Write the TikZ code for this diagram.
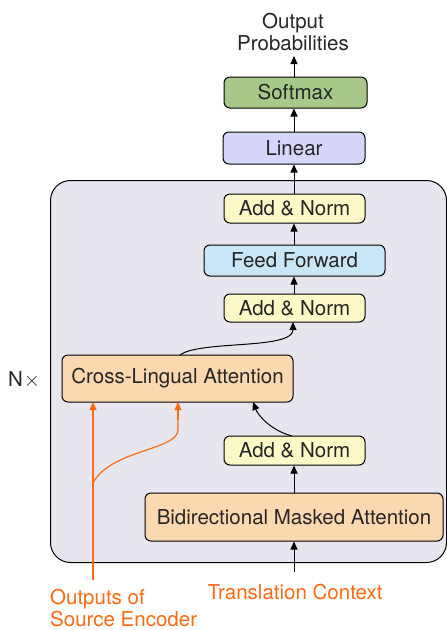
\documentclass[tikz,border=0pt]{standalone}
\usepackage{fontspec}
\setmainfont{TeX Gyre Heros}
\usetikzlibrary{arrows.meta}
\definecolor{softg}{HTML}{A8C88A}
\definecolor{linb}{HTML}{D6D6FA}
\definecolor{bigbg}{HTML}{E7E6EE}
\definecolor{anorm}{HTML}{FCF8C8}
\definecolor{ffb}{HTML}{C8E6F6}
\definecolor{peach}{HTML}{FAD8B0}
\definecolor{org}{HTML}{FF6A13}
\tikzset{
  blk/.style={draw=black, line width=1pt, rounded corners=6pt, inner sep=0pt, font=\fontsize{20.5}{23}\selectfont, text=black!85},
  arr/.style={-{Triangle[width=7pt,length=8pt]}, line width=1pt},
  oarr/.style={-{Triangle[width=7pt,length=8pt]}, line width=1.2pt, draw=org, color=org},
  lbl/.style={font=\fontsize{20.5}{22}\selectfont, text=black!85, inner sep=0pt},
}
\begin{document}
\begin{tikzpicture}[x=1pt,y=-1pt]
\useasboundingbox (0,0) rectangle (447,630);
% big box
\node[draw=black, line width=1pt, fill=bigbg, rounded corners=20pt, minimum width=396pt, minimum height=382pt, anchor=north west, inner sep=0pt] (big) at (50,180) {};
% nodes
\node[blk, fill=softg, minimum width=143pt, minimum height=31pt] (soft) at (295.5,92.5) {Softmax};
\node[blk, fill=linb, minimum width=142pt, minimum height=32pt] (lin) at (294,148) {Linear};
\node[blk, fill=anorm, minimum width=141pt, minimum height=29pt] (an1) at (294.5,208.5) {Add \& Norm};
\node[blk, fill=ffb, minimum width=181pt, minimum height=31pt] (ff) at (294.5,260.5) {Feed Forward};
\node[blk, fill=anorm, minimum width=141pt, minimum height=28pt] (an2) at (294.5,308) {Add \& Norm};
\node[blk, fill=peach, minimum width=231pt, minimum height=47pt] (cla) at (177.5,378.5) {Cross-Lingual Attention};
\node[blk, fill=anorm, minimum width=141pt, minimum height=29pt] (an3) at (294.5,450.5) {Add \& Norm};
\node[blk, fill=peach, minimum width=298pt, minimum height=48pt] (bma) at (294,517) {Bidirectional Masked Attention};
% labels
\node[lbl, align=center] (out) at (293,32) {Output\\Probabilities};
\node[lbl, text=org] (tc) at (295,592) {Translation Context};
\node[lbl, text=org, align=left, anchor=west] (ose) at (50,608) {Outputs of\\Source Encoder};
\node[lbl] (nx) at (24,380) {N\kern1pt{\fontsize{22}{24}\selectfont$\times$}};
% coordinates
\coordinate (tcs) at (294,572);
\coordinate (outs) at (294,56);
\coordinate (os) at (93,580);
\coordinate (br) at (93,483);
% arrows
\draw[arr] (bma.north -| tcs) -- (an3.south -| tcs);
\draw[arr] (tcs) -- (bma.south -| tcs);
\draw[arr] (an1.north -| tcs) -- (lin.south -| tcs);
\draw[arr] (an2.north -| tcs) -- (ff.south -| tcs);
\draw[arr] (ff.north -| tcs) -- (an1.south -| tcs);
\draw[arr] (lin.north -| tcs) -- (soft.south -| tcs);
\draw[arr] (soft.north -| tcs) -- (outs);
\draw[arr] (180,355) .. controls (200,340) and (293,350) .. (293,322);
\draw[arr] (292,436) .. controls (270,430) and (258,415) .. (253,402);
% orange
\draw[oarr] (os) -- (93,402);
\draw[line width=1.2pt, draw=org] (br) .. controls (110,450) and (178,450) .. (178,430) -- (178,405);
\draw[oarr] (178,420) -- (178,402);
\end{tikzpicture}
\end{document}
